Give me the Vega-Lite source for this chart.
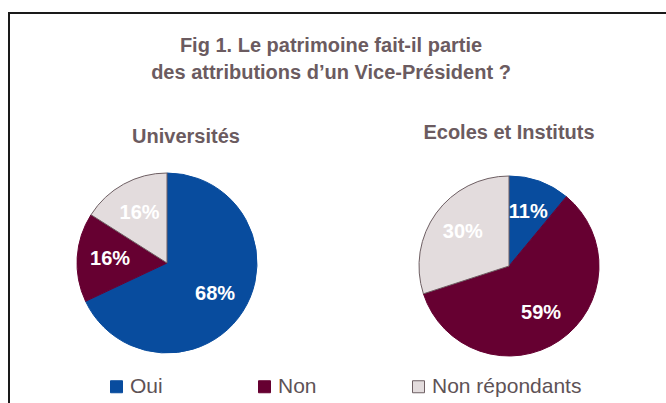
{
  "$schema": "https://vega.github.io/schema/vega-lite/v6.json",
  "autosize": "none",
  "width": 700,
  "height": 450,
  "padding": {"left": 9, "top": 13, "right": 0, "bottom": 0},
  "background": "white",
  "config": {"view": {"stroke": "#1a1a1a", "strokeWidth": 2}, "font": "Liberation Sans"},
  "title": {
    "text": ["Fig 1. Le patrimoine fait-il partie", "des attributions d’un Vice-Président ?"],
    "anchor": "middle",
    "frame": "group",
    "dx": -28,
    "offset": -70,
    "fontSize": 20,
    "fontWeight": "bold",
    "color": "#6b5b60",
    "lineHeight": 27,
    "font": "Liberation Sans"
  },
  "data": {
    "values": [
      {"groupe": "Universités", "rep": "Oui", "k": 1, "v": 68},
      {"groupe": "Universités", "rep": "Non", "k": 2, "v": 16},
      {"groupe": "Universités", "rep": "Non répondants", "k": 3, "v": 16},
      {"groupe": "Ecoles et Instituts", "rep": "Oui", "k": 1, "v": 11},
      {"groupe": "Ecoles et Instituts", "rep": "Non", "k": 2, "v": 59},
      {"groupe": "Ecoles et Instituts", "rep": "Non répondants", "k": 3, "v": 30}
    ]
  },
  "transform": [
    {"stack": "v", "groupby": ["groupe"], "sort": [{"field": "k", "order": "ascending"}], "as": ["v0", "v1"]},
    {"calculate": "(datum.v0 + datum.v1) / 2", "as": "vm"},
    {"calculate": "datum.v + '%'", "as": "lab"}
  ],
  "resolve": {"scale": {"x": "independent", "y": "independent"}},
  "layer": [
    {
      "mark": {"type": "arc", "outerRadius": 90, "strokeWidth": 1},
      "encoding": {
        "x": {"field": "groupe", "type": "nominal", "axis": null, "scale": {"type": "point", "domain": ["Universités", "Ecoles et Instituts"], "range": [158, 500], "padding": 0}},
        "y": {"field": "groupe", "type": "nominal", "axis": null, "scale": {"type": "point", "domain": ["Universités", "Ecoles et Instituts"], "range": [250, 253], "padding": 0}},
        "theta": {"field": "v0", "type": "quantitative", "scale": {"domain": [0, 100]}},
        "theta2": {"field": "v1"},
        "color": {
          "field": "rep", "type": "nominal",
          "scale": {"domain": ["Oui", "Non", "Non répondants"], "range": ["#084c9e", "#660031", "#e3dcdd"]},
          "legend": {"orient": "none", "legendX": 97, "legendY": 363, "direction": "horizontal", "title": null, "symbolType": "square", "symbolSize": 144, "labelFontSize": 21, "labelFont": "Liberation Sans", "labelColor": "#5e5256", "columnPadding": 91, "labelOffset": 3, "symbolStrokeWidth": 1}
        },
        "stroke": {
          "field": "rep", "type": "nominal",
          "scale": {"domain": ["Oui", "Non", "Non répondants"], "range": ["#084c9e", "#660031", "#6e5f63"]},
          "legend": {"orient": "none", "legendX": 97, "legendY": 363, "direction": "horizontal", "title": null, "symbolType": "square", "symbolSize": 144, "labelFontSize": 21, "labelFont": "Liberation Sans", "labelColor": "#5e5256", "columnPadding": 91, "labelOffset": 3, "symbolStrokeWidth": 1}
        }
      }
    },
    {
      "mark": {"type": "text", "radius": 57, "fontSize": 20, "fontWeight": "bold", "color": "white", "align": "center", "baseline": "middle"},
      "encoding": {
        "x": {"field": "groupe", "type": "nominal", "axis": null, "scale": {"type": "point", "domain": ["Universités", "Ecoles et Instituts"], "range": [158, 500], "padding": 0}},
        "y": {"field": "groupe", "type": "nominal", "axis": null, "scale": {"type": "point", "domain": ["Universités", "Ecoles et Instituts"], "range": [250, 253], "padding": 0}},
        "theta": {"field": "vm", "type": "quantitative", "scale": {"domain": [0, 100]}},
        "text": {"field": "lab", "type": "nominal"}
      }
    },
    {
      "transform": [{"filter": "datum.k == 1"}],
      "mark": {"type": "text", "fontSize": 20, "fontWeight": "bold", "color": "#6b5b60", "align": "center", "baseline": "middle"},
      "encoding": {
        "x": {"field": "groupe", "type": "nominal", "axis": null, "scale": {"type": "point", "domain": ["Universités", "Ecoles et Instituts"], "range": [177, 500], "padding": 0}},
        "y": {"field": "groupe", "type": "nominal", "axis": null, "scale": {"type": "point", "domain": ["Universités", "Ecoles et Instituts"], "range": [124, 120], "padding": 0}},
        "text": {"field": "groupe", "type": "nominal"}
      }
    }
  ]
}
